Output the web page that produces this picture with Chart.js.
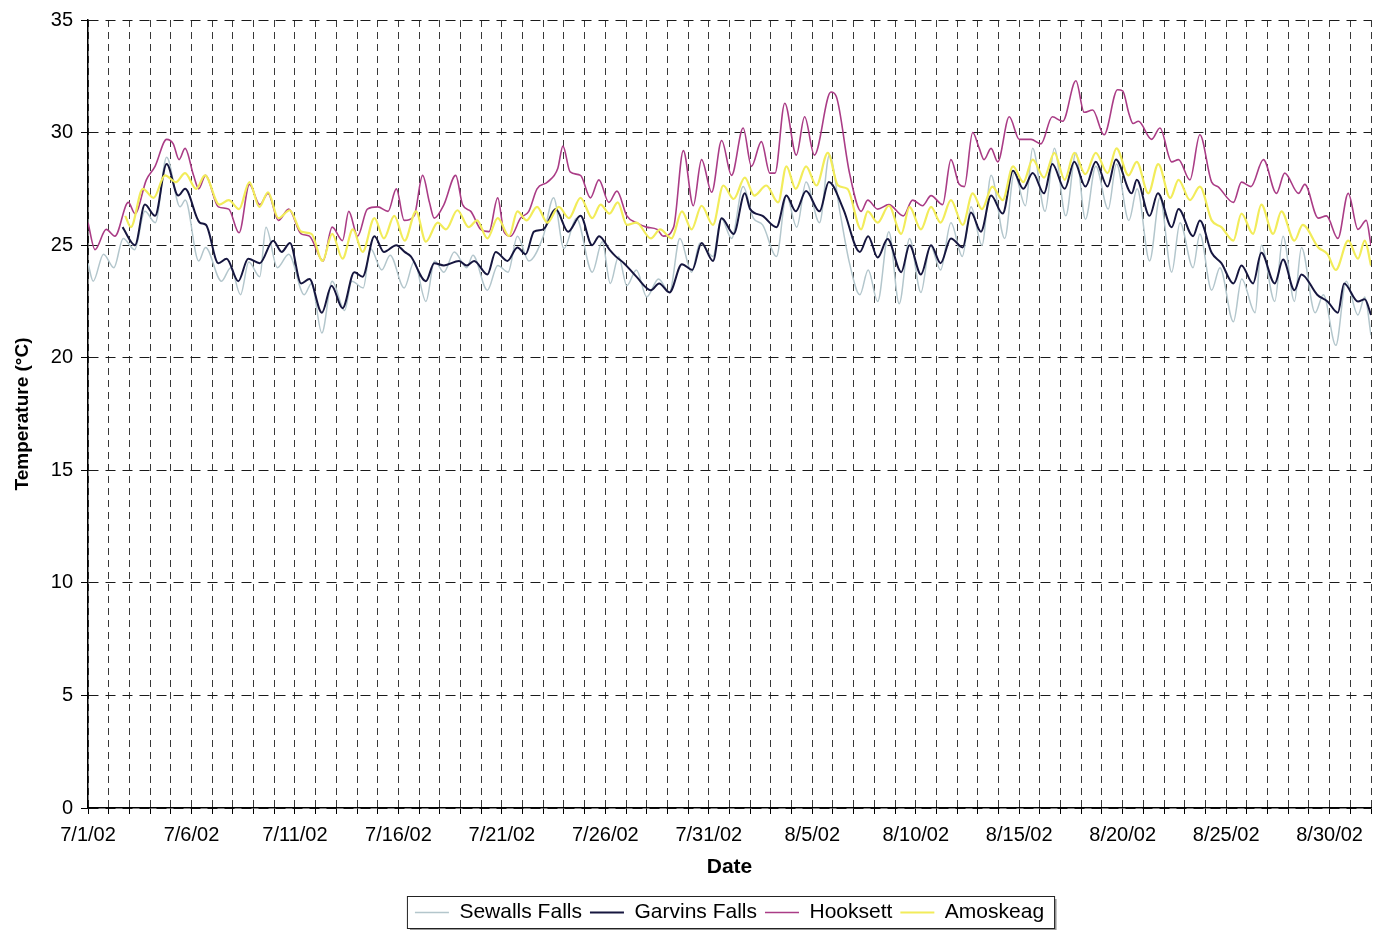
<!DOCTYPE html>
<html>
<head>
<meta charset="utf-8">
<script src="https://cdn.jsdelivr.net/npm/chart.js@4.4.1/dist/chart.umd.min.js"></script>
<style>
html,body{margin:0;padding:0;background:#fff;}
#wrap{width:1380px;height:930px;position:relative;}
</style>
</head>
<body>
<div id="wrap"><canvas id="c"></canvas></div>
<script>
// Tick labels every 5 days (x = days since 7/1/02)
const dateLabels = ['7/1/02','7/6/02','7/11/02','7/16/02','7/21/02','7/26/02','7/31/02','8/5/02','8/10/02','8/15/02','8/20/02','8/25/02','8/30/02'];
const seriesNames = ['Sewalls Falls','Garvins Falls','Hooksett','Amoskeag'];

// Sewalls Falls
const sfDays = [
0.0,0.25,0.75,1.25,1.7,2.25,2.75,3.25,3.8,4.45,
4.7,5.35,5.68,6.45,6.9,7.37,7.77,8.3,8.6,9.15,
9.7,10.45,10.8,11.3,11.8,12.4,12.75,13.3,13.65,14.2,
14.6,15.28,15.76,16.33,16.75,17.2,17.7,18.3,18.6,19.3,
19.8,20.3,20.75,21.3,22.0,22.5,23.0,23.6,24.37,24.85,
25.24,25.64,26.04,26.5,27.0,27.57,28.1,28.6,29.17,29.57,
30.2,30.6,31.1,31.66,32.15,32.6,33.27,33.75,34.25,34.7,
35.35,35.83,36.35,36.8,37.3,37.7,38.16,38.7,39.2,39.7,
40.25,40.7,41.2,41.7,42.25,42.67,43.2,43.64,44.3,44.76,
45.3,45.65,46.25,46.7,47.25,47.74,48.2,48.7,49.3,49.7,
50.3,50.7,51.3,51.8,52.37,52.77,53.4,53.73,54.3,54.7,
55.35,55.75,56.4,56.7,57.35,57.75,58.3,58.64,59.3,59.7,
60.3,60.8,61.37,61.7,62.0];
const sfTemps = [
24.2,23.4,24.6,24.0,25.3,24.8,26.5,26.0,28.9,26.7,
27.0,24.3,24.9,23.4,24.0,22.8,24.25,23.6,25.8,24.0,
24.6,22.8,23.3,21.1,23.4,22.1,23.4,23.1,24.85,23.9,
24.55,23.1,24.26,22.5,24.3,23.8,24.7,24.0,24.55,23.0,
24.1,23.8,25.4,24.3,25.4,27.1,24.85,26.2,23.8,25.15,
23.3,24.5,23.2,23.9,22.7,23.5,22.9,25.3,23.8,25.1,
24.5,26.2,25.3,27.6,26.2,25.9,24.5,27.2,25.8,27.8,
26.0,29.0,26.4,24.2,22.8,23.9,22.5,25.6,22.4,25.3,
22.9,25.0,23.9,26.0,24.5,26.7,25.0,28.1,25.3,28.2,
26.75,29.3,26.5,29.3,26.3,29.1,26.15,28.5,26.6,28.6,
26.1,27.5,24.3,27.1,23.8,26.0,24.0,25.5,23.0,24.0,
21.6,23.5,22.0,25.0,22.5,25.4,22.5,24.9,22.0,22.8,
20.55,23.4,21.9,22.7,21.0];

// Garvins Falls
const gfDays = [
1.67,2.27,2.75,3.24,3.8,4.36,4.69,5.4,5.7,6.3,
6.7,7.26,7.74,8.3,8.95,9.36,9.76,10.3,10.7,11.3,
11.77,12.3,12.87,13.27,13.84,14.3,14.9,15.3,15.6,16.33,
16.73,17.2,17.93,18.3,18.66,19.3,19.7,20.27,20.75,21.15,
21.55,22.0,22.6,23.2,23.8,24.36,24.7,25.2,25.5,25.9,
26.5,27.2,27.6,28.1,28.7,29.2,29.65,30.2,30.62,31.2,
31.74,32.0,32.6,33.27,33.75,34.2,34.7,35.35,35.8,36.5,
37.3,37.7,38.16,38.64,39.3,39.7,40.25,40.74,41.2,41.7,
42.27,42.67,43.15,43.64,44.2,44.7,45.2,45.65,46.2,46.6,
47.2,47.66,48.2,48.7,49.27,49.67,50.44,50.68,51.3,51.7,
52.37,52.7,53.4,53.73,54.3,54.77,55.35,55.74,56.3,56.7,
57.35,57.75,58.3,58.64,59.4,59.9,60.4,60.7,61.37,61.7,
62.0];
const gfTemps = [
25.8,25.0,26.8,26.3,28.6,27.2,27.5,26.0,25.9,24.2,
24.4,23.4,24.4,24.2,25.2,24.7,25.1,23.3,23.5,22.0,
23.2,22.2,23.8,23.6,25.4,24.7,25.0,24.7,24.5,23.4,
24.2,24.1,24.3,24.1,24.3,23.7,24.7,24.3,24.9,24.6,
25.6,25.7,26.6,25.6,26.3,25.0,25.4,24.8,24.5,24.2,
23.6,23.0,23.3,22.9,24.15,23.9,25.1,24.3,26.2,25.5,
27.3,26.6,26.3,25.8,27.2,26.5,27.4,26.5,27.8,26.6,
24.7,25.4,24.45,25.27,23.8,25.0,23.7,25.0,24.2,25.3,
24.9,26.45,25.6,27.2,26.4,28.3,27.5,28.2,27.3,28.6,
27.5,28.7,27.6,28.7,27.6,28.8,27.3,27.9,26.3,27.3,
25.8,26.6,25.4,26.1,24.66,24.2,23.3,24.1,23.3,24.66,
23.3,24.36,23.0,23.7,22.8,22.5,22.0,23.3,22.5,22.6,
21.9];

// Hooksett
const hkDays = [
0.0,0.34,0.88,1.3,1.95,2.27,2.82,3.24,3.8,4.12,
4.4,4.69,5.1,5.35,5.68,6.3,6.8,7.3,7.8,8.3,
8.7,9.2,9.7,10.3,10.7,11.36,11.8,12.3,12.6,13.03,
13.5,14.0,14.5,14.9,15.28,15.76,16.17,16.5,16.73,17.2,
17.77,18.1,18.5,18.98,19.38,19.8,20.1,20.43,20.9,21.3,
21.7,22.2,22.7,22.95,23.3,23.8,24.28,24.69,25.17,25.56,
26.04,26.5,26.99,27.5,27.8,28.3,28.77,29.25,29.65,30.14,
30.62,31.1,31.66,32.06,32.54,32.95,33.2,33.67,34.23,34.63,
35.1,35.9,36.16,36.8,37.36,37.68,38.16,38.7,39.4,39.85,
40.33,40.74,41.3,41.7,42.1,42.35,42.75,43.07,43.3,43.64,
43.96,44.52,45.0,45.57,46.05,46.6,47.1,47.74,48.14,48.55,
49.1,49.75,50.0,50.3,50.5,50.76,51.4,51.8,52.37,52.7,
53.25,53.73,54.3,54.6,55.35,55.74,56.2,56.8,57.43,57.83,
58.5,58.8,59.45,59.85,60.4,60.9,61.37,61.77,62.0];
const hkTemps = [
26.0,24.8,25.7,25.4,26.9,26.4,27.9,28.5,29.7,29.5,
28.8,29.3,28.1,27.5,28.1,26.7,26.6,25.55,27.7,26.8,
27.3,26.1,26.6,25.5,25.4,24.3,25.8,25.2,26.5,25.4,
26.6,26.7,26.5,27.5,26.1,26.3,28.1,26.9,26.2,26.8,
28.1,26.8,26.5,25.7,25.6,27.1,25.6,25.4,26.2,26.5,
27.5,27.8,28.4,29.4,28.25,28.1,27.1,27.9,26.9,27.4,
26.3,26.0,25.8,25.7,25.4,25.8,29.2,26.75,28.8,27.35,
29.65,28.1,30.2,28.5,29.6,28.2,28.2,31.3,29.0,30.7,
29.0,31.8,31.6,28.2,26.5,27.0,26.6,26.8,26.3,27.0,
26.75,27.2,26.8,28.8,27.7,27.6,30.0,29.3,28.8,29.3,
28.7,30.7,29.7,29.7,29.5,30.7,30.5,32.3,30.9,31.0,
29.9,31.9,31.85,30.85,30.4,30.5,29.7,30.2,28.7,28.8,
27.9,29.9,27.8,27.6,26.9,27.8,27.6,28.8,27.3,28.2,
27.3,27.7,26.2,26.3,25.3,27.3,25.7,26.1,25.0];

// Amoskeag
const amDays = [
1.8,2.07,2.65,3.17,3.72,4.25,4.69,5.23,5.65,6.35,
6.8,7.3,7.8,8.28,8.7,9.2,9.75,10.3,10.8,11.33,
11.8,12.3,12.8,13.27,13.84,14.3,14.8,15.3,15.85,16.33,
16.9,17.3,17.85,18.4,18.8,19.3,19.8,20.35,20.75,21.2,
21.7,22.2,22.75,23.24,23.8,24.37,24.77,25.2,25.6,26.04,
26.5,27.2,27.65,28.2,28.7,29.17,29.65,30.2,30.7,31.2,
31.74,32.2,32.78,33.35,33.75,34.2,34.7,35.2,35.75,36.24,
36.7,37.36,37.68,38.16,38.7,39.3,39.7,40.25,40.74,41.2,
41.7,42.27,42.75,43.2,43.7,44.2,44.7,45.2,45.65,46.2,
46.7,47.2,47.66,48.2,48.7,49.27,49.7,50.28,50.68,51.24,
51.72,52.3,52.7,53.25,53.73,54.3,54.77,55.35,55.74,56.3,
56.7,57.27,57.67,58.3,58.7,59.45,59.9,60.3,60.9,61.37,
61.7,62.0];
const amTemps = [
26.3,25.8,27.5,27.1,28.1,27.8,28.2,27.5,28.1,26.8,
27.0,26.6,27.8,26.7,27.35,26.2,26.55,25.6,25.5,24.3,
25.5,24.4,25.7,24.7,26.2,25.3,26.3,25.2,26.5,25.15,
26.0,25.7,26.55,25.8,26.1,25.3,26.2,25.4,26.5,26.1,
26.7,26.0,26.7,26.2,27.1,26.2,26.8,26.4,26.9,25.9,
26.0,25.3,25.7,25.3,26.5,25.7,26.75,25.9,27.65,27.05,
28.0,27.2,27.65,26.9,28.5,27.5,28.5,27.65,29.1,27.65,
27.5,25.7,26.5,26.0,26.75,25.5,26.7,25.7,26.7,26.0,
27.0,25.9,27.3,26.6,27.6,27.0,28.5,27.8,28.8,28.0,
29.1,27.9,29.1,28.15,29.1,28.2,29.3,28.1,28.7,27.3,
28.6,27.1,27.9,27.0,27.6,26.1,25.8,25.2,26.4,25.5,
26.8,25.5,26.5,25.2,25.9,24.9,24.6,23.9,25.2,24.4,
25.2,24.1];

const FONT = '"Liberation Sans", Arial, Helvetica, sans-serif';
const toXY = (xs, ys) => xs.slice(0, Math.min(xs.length, ys.length)).map((x, i) => ({x: x, y: ys[i]}));

const legendFrame = {
  id: 'legendFrame',
  afterDraw(chart) {
    const hb = chart.legend && chart.legend.legendHitBoxes;
    if (!hb || !hb.length) return;
    const first = hb[0], last = hb[hb.length - 1];
    const l = first.left - 8, r = last.left + last.width + 10;
    const t = first.top - 6, b = first.top + first.height + 5;
    const ctx = chart.ctx;
    ctx.save();
    ctx.strokeStyle = '#9a9a9a';
    ctx.lineWidth = 2;
    ctx.beginPath();
    ctx.moveTo(l + 3, b + 1.5); ctx.lineTo(r + 1.5, b + 1.5); ctx.lineTo(r + 1.5, t + 3);
    ctx.stroke();
    ctx.strokeStyle = '#222';
    ctx.lineWidth = 1;
    ctx.strokeRect(l + 0.5, t + 0.5, r - l, b - t);
    ctx.restore();
  }
};

new Chart(document.getElementById('c'), {
  type: 'line',
  data: {
    datasets: [
      {label: seriesNames[0], data: toXY(sfDays, sfTemps), borderColor: '#b3c6cc', borderWidth: 1.5, order: 3},
      {label: seriesNames[1], data: toXY(gfDays, gfTemps), borderColor: '#16163f', borderWidth: 2, order: 2},
      {label: seriesNames[2], data: toXY(hkDays, hkTemps), borderColor: '#aa3c86', borderWidth: 1.6, order: 1},
      {label: seriesNames[3], data: toXY(amDays, amTemps), borderColor: '#f2ec5a', borderWidth: 2.2, order: 0}
    ]
  },
  options: {
    responsive: true,
    maintainAspectRatio: false,
    animation: false,
    layout: {padding: {left: 0, right: 7, top: 20, bottom: -3}},
    elements: {
      point: {radius: 0, hoverRadius: 0},
      line: {cubicInterpolationMode: 'monotone', fill: false}
    },
    plugins: {
      legend: {
        position: 'bottom',
        fullSize: false,
        labels: {
          usePointStyle: true,
          pointStyle: 'line',
          pointStyleWidth: 34,
          padding: 8,
          color: '#000',
          font: {family: FONT, size: 21},
          sort: (a, b) => a.datasetIndex - b.datasetIndex
        }
      },
      tooltip: {enabled: false}
    },
    scales: {
      x: {
        type: 'linear',
        min: 0,
        max: 62,
        afterFit: (s) => { s.height = 86; },
        ticks: {
          stepSize: 1,
          autoSkip: false,
          maxRotation: 0,
          minRotation: 0,
          padding: 9,
          color: '#000',
          font: {family: FONT, size: 20},
          callback: (v) => (v % 5 === 0 && dateLabels[v / 5]) ? dateLabels[v / 5] : ''
        },
        grid: {color: 'rgba(0,0,0,0.78)', lineWidth: 1, tickLength: 6, tickColor: '#000'},
        border: {display: true, color: '#000', width: 1.5, dash: [7, 5]},
        title: {display: true, text: 'Date', color: '#000', font: {family: FONT, size: 21, weight: 'bold'}, padding: {top: 0, bottom: 14}}
      },
      y: {
        min: 0,
        max: 35,
        afterFit: (s) => { s.width = 88; },
        ticks: {stepSize: 5, padding: 8, color: '#000', font: {family: FONT, size: 20}},
        grid: {color: '#1a1a1a', lineWidth: 1, tickLength: 7, tickColor: '#000'},
        border: {display: true, color: '#000', width: 1.5, dash: [10, 7]},
        title: {display: true, text: 'Temperature (°C)', color: '#000', font: {family: FONT, size: 19, weight: 'bold'}, padding: {top: 11, bottom: 0}}
      }
    }
  },
  plugins: [legendFrame]
});
</script>
</body>
</html>
